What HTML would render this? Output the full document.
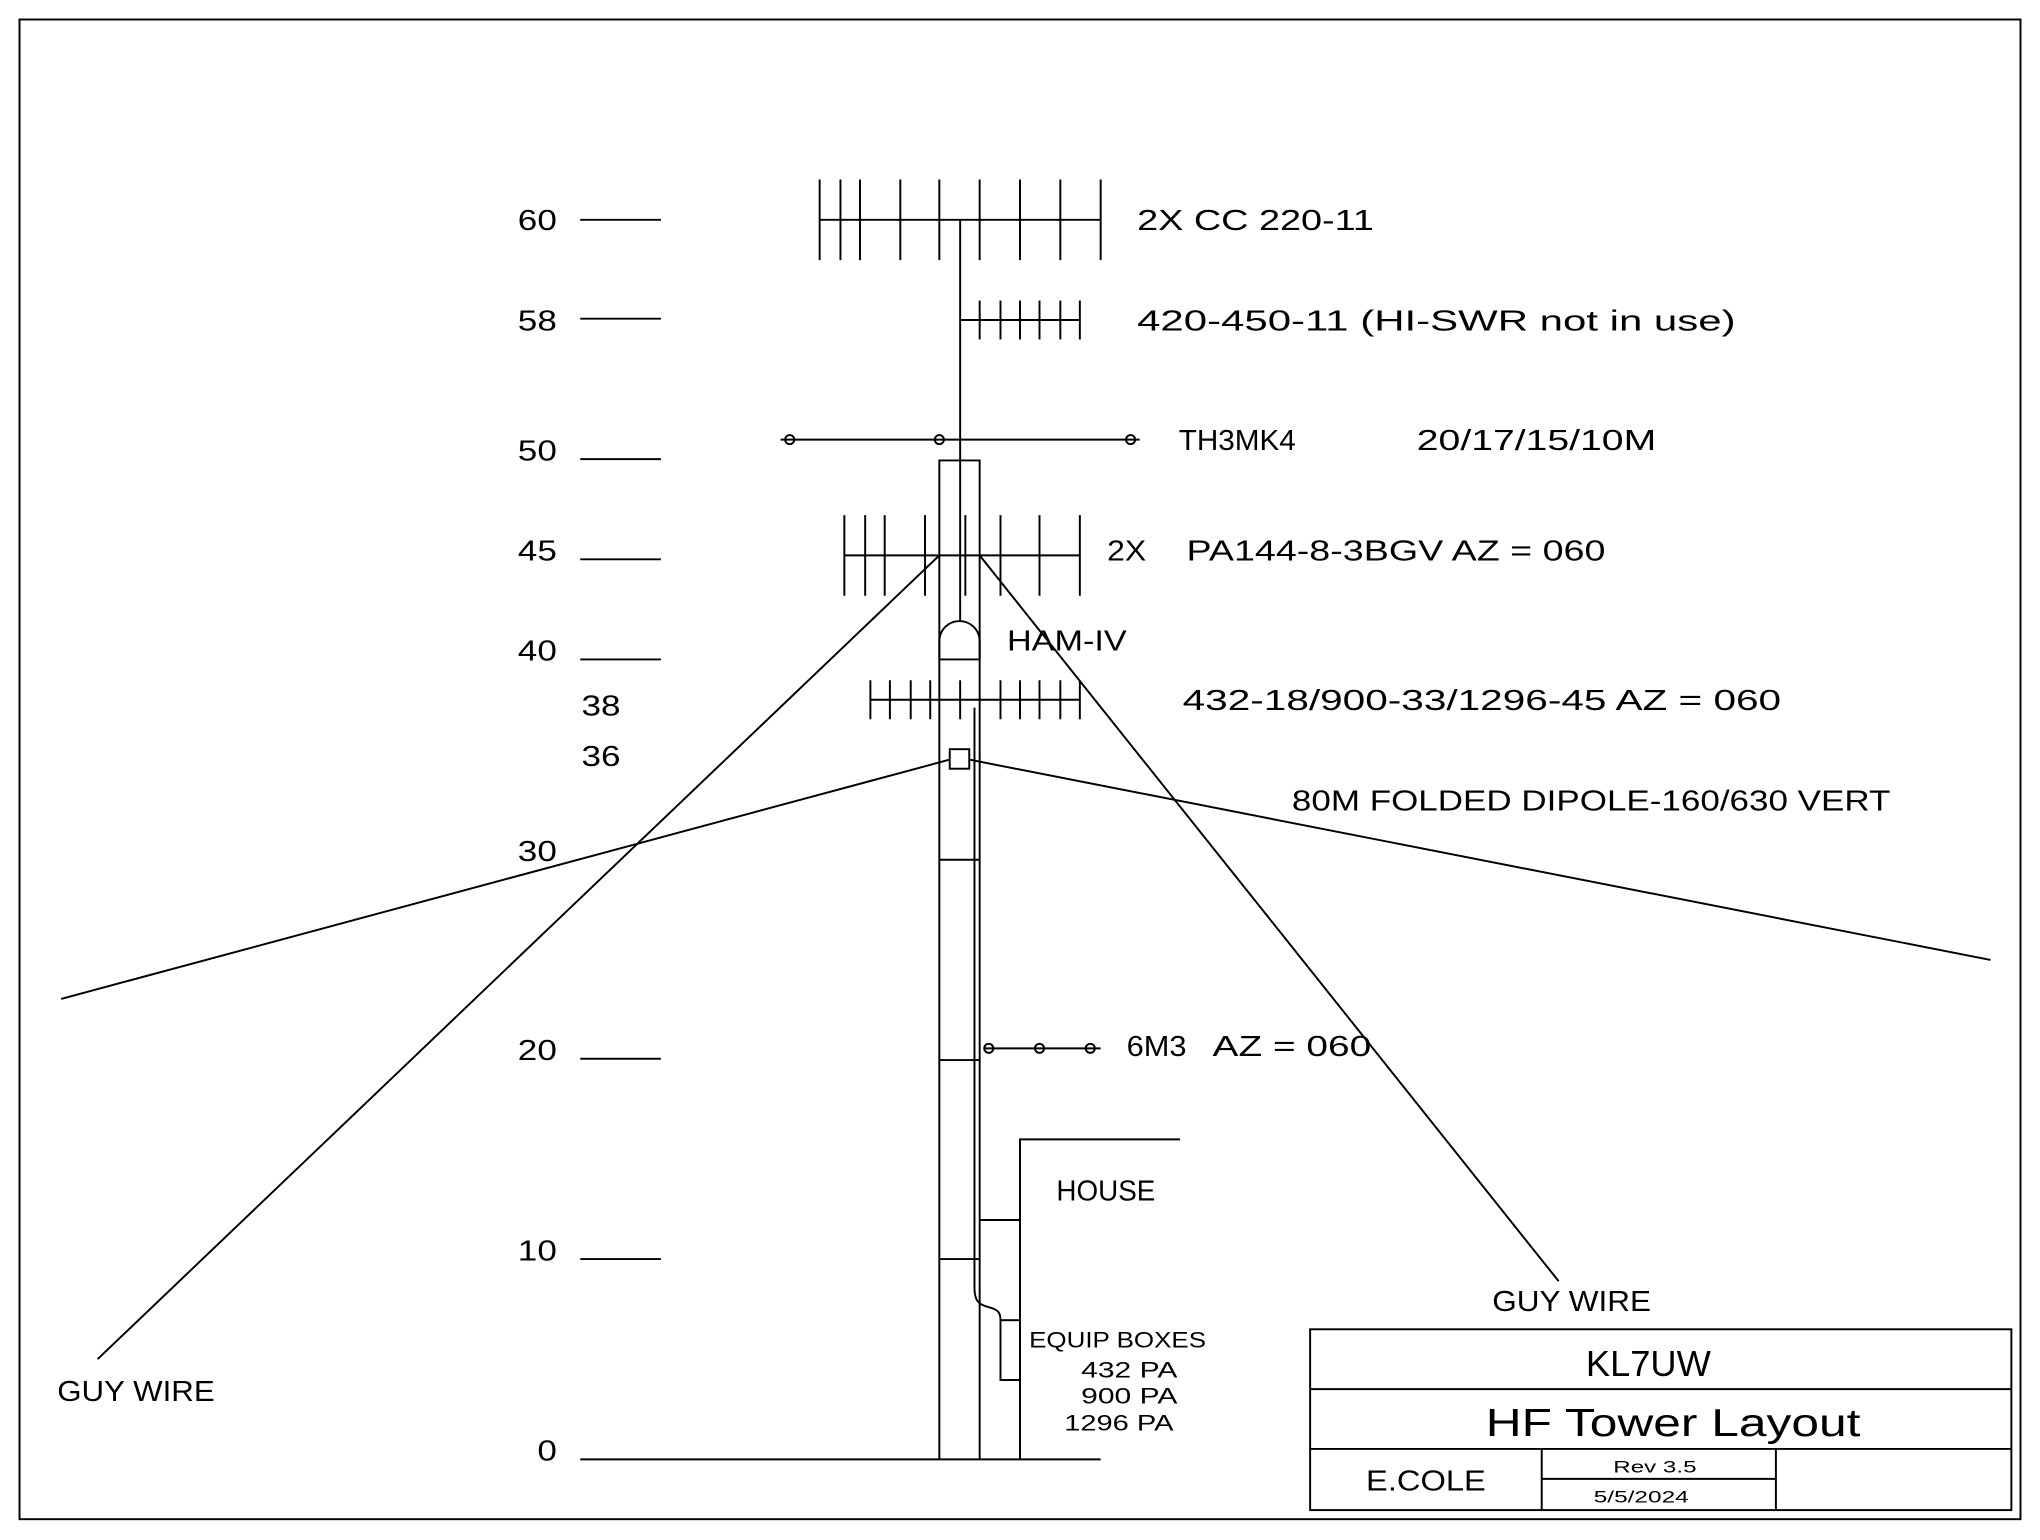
<!DOCTYPE html>
<html><head><meta charset="utf-8"><style>
html,body{margin:0;padding:0;background:#fff}
svg{display:block}
text{font-family:"Liberation Sans",sans-serif;fill:#000}
</style></head><body>
<svg width="2040" height="1540" viewBox="0 0 1568 1184" preserveAspectRatio="none" xmlns="http://www.w3.org/2000/svg">
<g stroke="#000" stroke-width="1.5" fill="none">
<rect x="15" y="15" width="1538" height="1153"/>
<path d="M446 169H508M446 245H508M446 353H508M446 430H508M446 507H508M446 814H508M446 968H508M446 1122H846"/>
<path d="M630 169H846M630 138V200M646 138V200M661 138V200M692 138V200M722 138V200M753 138V200M784 138V200M815 138V200M846 138V200"/>
<path d="M738 169V354"/>
<path d="M738 246H830M753 231V261M769 231V261M784 231V261M799 231V261M815 231V261M830 231V261"/>
<path d="M600 338H876"/>
<circle cx="607" cy="338" r="3.5"/><circle cx="722" cy="338" r="3.5"/><circle cx="869" cy="338" r="3.5"/>
<path d="M722 1122V354H753V1122"/>
<path d="M738 354V477"/>
<path d="M649 427H830M649 396V458M665 396V458M680 396V458M711 396V458M742 396V458M769 396V458M799 396V458M830 396V458"/>
<path d="M722 427L75 1045M753 427L1198 985"/>
<path d="M722 507V493A15.5 15.5 0 0 1 753 493V507M722 507H753"/>
<path d="M669 538H830M669 523V553M684 523V553M700 523V553M715 523V553M738 523V553M769 523V553M784 523V553M799 523V553M815 523V553M830 523V553"/>
<path d="M749 544V990C749 1000 752 1003 760 1005C768 1007 769 1010 769 1015"/>
<rect x="730" y="576" width="15" height="15"/>
<path d="M730 584L47 768M745 584L1530 738"/>
<path d="M722 661H753M722 815H753M722 968H753"/>
<path d="M757 806H846"/>
<circle cx="760" cy="806" r="3.5"/><circle cx="799" cy="806" r="3.5"/><circle cx="838" cy="806" r="3.5"/>
<path d="M784 1122V876H907M753 938H784"/>
<rect x="769" y="1015" width="15" height="46"/>
<rect x="1007" y="1022" width="539" height="139"/>
<path d="M1007 1068H1546M1007 1114H1546M1185 1114V1161M1365 1114V1161M1185 1137H1365"/>
</g>
<g font-size="22">
<text x="398" y="177" textLength="30" lengthAdjust="spacingAndGlyphs">60</text>
<text x="398" y="254" textLength="30" lengthAdjust="spacingAndGlyphs">58</text>
<text x="398" y="354" textLength="30" lengthAdjust="spacingAndGlyphs">50</text>
<text x="398" y="431" textLength="30" lengthAdjust="spacingAndGlyphs">45</text>
<text x="398" y="508" textLength="30" lengthAdjust="spacingAndGlyphs">40</text>
<text x="447" y="550" textLength="30" lengthAdjust="spacingAndGlyphs">38</text>
<text x="447" y="589" textLength="30" lengthAdjust="spacingAndGlyphs">36</text>
<text x="398" y="662" textLength="30" lengthAdjust="spacingAndGlyphs">30</text>
<text x="398" y="815" textLength="30" lengthAdjust="spacingAndGlyphs">20</text>
<text x="398" y="969" textLength="30" lengthAdjust="spacingAndGlyphs">10</text>
<text x="413" y="1123" textLength="15" lengthAdjust="spacingAndGlyphs">0</text>
<text x="874" y="177" textLength="182" lengthAdjust="spacingAndGlyphs">2X CC 220-11</text>
<text x="874" y="254" textLength="460" lengthAdjust="spacingAndGlyphs">420-450-11 (HI-SWR not in use)</text>
<text x="906" y="346" textLength="90" lengthAdjust="spacingAndGlyphs">TH3MK4</text>
<text x="1089" y="346" textLength="184" lengthAdjust="spacingAndGlyphs">20/17/15/10M</text>
<text x="851" y="431" textLength="30" lengthAdjust="spacingAndGlyphs">2X</text>
<text x="912" y="431" textLength="322" lengthAdjust="spacingAndGlyphs">PA144-8-3BGV AZ = 060</text>
<text x="774" y="500" textLength="92" lengthAdjust="spacingAndGlyphs">HAM-IV</text>
<text x="909" y="546" textLength="460" lengthAdjust="spacingAndGlyphs">432-18/900-33/1296-45 AZ = 060</text>
<text x="993" y="623" textLength="460" lengthAdjust="spacingAndGlyphs">80M FOLDED DIPOLE-160/630 VERT</text>
<text x="866" y="812" textLength="46" lengthAdjust="spacingAndGlyphs">6M3</text>
<text x="932" y="812" textLength="122" lengthAdjust="spacingAndGlyphs">AZ = 060</text>
<text x="812" y="923" textLength="76" lengthAdjust="spacingAndGlyphs">HOUSE</text>
<text x="1147" y="1008" textLength="122" lengthAdjust="spacingAndGlyphs">GUY WIRE</text>
<text x="44" y="1077" textLength="121" lengthAdjust="spacingAndGlyphs">GUY WIRE</text>
<text x="1219" y="1058" font-size="28" textLength="96" lengthAdjust="spacingAndGlyphs">KL7UW</text>
<text x="1142" y="1104" font-size="30" textLength="288" lengthAdjust="spacingAndGlyphs">HF Tower Layout</text>
<text x="1050" y="1146" textLength="92" lengthAdjust="spacingAndGlyphs">E.COLE</text>
</g>
<g font-size="17">
<text x="791" y="1036" textLength="136" lengthAdjust="spacingAndGlyphs">EQUIP BOXES</text>
<text x="831" y="1059" textLength="74" lengthAdjust="spacingAndGlyphs">432 PA</text>
<text x="831" y="1079" textLength="74" lengthAdjust="spacingAndGlyphs">900 PA</text>
<text x="818" y="1100" textLength="84" lengthAdjust="spacingAndGlyphs">1296 PA</text>
</g>
<g font-size="13">
<text x="1240" y="1132" textLength="64" lengthAdjust="spacingAndGlyphs">Rev 3.5</text>
<text x="1225" y="1155" textLength="73" lengthAdjust="spacingAndGlyphs">5/5/2024</text>
</g>
</svg>
</body></html>
